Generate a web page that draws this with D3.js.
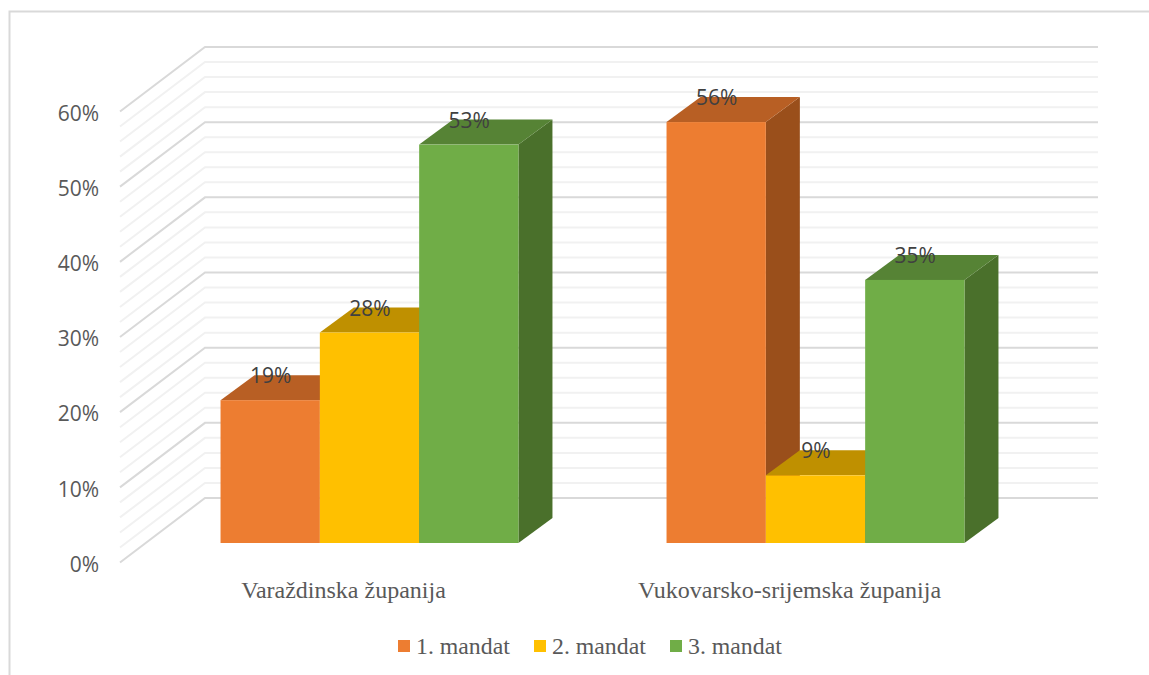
<!DOCTYPE html>
<html>
<head>
<meta charset="utf-8">
<script src="https://cdn.jsdelivr.net/npm/d3@7"></script>
<style>
  html, body { margin: 0; padding: 0; background: #fff; }
  svg { display: block; }
  .tick-label { font-family: "Open Sans", sans-serif; font-size: 21px; fill: #595959; }
  .cat-label, .legend-label { font-family: "Liberation Serif", serif; font-size: 24px; fill: #595959; }
  .legend-label { font-size: 23.8px; }
  .value-label { font-family: "Open Sans", sans-serif; font-size: 21px; fill: #404040; }
</style>
</head>
<body>
<div id="chart"></div>
<script>
const categories = ["Varaždinska županija", "Vukovarsko-srijemska županija"]
const seriesNames = ["1. mandat", "2. mandat", "3. mandat"]
const mandat1 = [19, 56]
const mandat2 = [28, 9]
const mandat3 = [53, 35]
const seriesValues = [mandat1, mandat2, mandat3]
const tickValues = [0, 10, 20, 30, 40, 50, 60]
const minorValues = [2, 4, 6, 8, 12, 14, 16, 18, 22, 24, 26, 28, 32, 34, 36, 38, 42, 44, 46, 48, 52, 54, 56, 58]

const frontColors = ["#ED7D31", "#FFC000", "#70AD47"]
const topColors = ["#B85F24", "#BF9000", "#568335"]
const sideColors = ["#9A4F1B", "#A07800", "#4A702B"]

const width = 1149
const height = 675

const svg = d3.select("#chart").append("svg")
    .attr("width", width)
    .attr("height", height)

// Chart frame, cut off by the right and bottom of the picture.
svg.append("path")
    .attr("d", "M9.5,675V11.5H1149")
    .attr("fill", "none")
    .attr("stroke", "#D9D9D9")
    .attr("stroke-width", 2)

// The back wall is the reference plane for the gridlines.
const yWall = d3.scaleLinear().domain([0, 60]).range([498, 47])
const wallLeft = 205
const wallRight = 1098
const depthX = 85
const depthY = 64.5

function drawGrid(values, color) {
  svg.append("g")
    .selectAll("path")
    .data(values)
    .enter().append("path")
    .attr("d", function(d) {
      let y = yWall(d)
      return "M" + (wallLeft - depthX) + "," + (y + depthY) + "L" + wallLeft + "," + y + "H" + wallRight
    })
    .attr("fill", "none")
    .attr("stroke", color)
    .attr("stroke-width", 2)
}

drawGrid(minorValues, "#F1F1F1")
drawGrid(tickValues, "#D9D9D9")

// Value axis sits on the front edge of the side wall.
const yAxisScale = d3.scaleLinear().domain([0, 60]).range([562, 111])
const yAxis = svg.append("g")
    .attr("transform", "translate(108,2.5)")
    .call(d3.axisLeft(yAxisScale)
      .tickValues(tickValues)
      .tickSize(0)
      .tickPadding(9)
      .tickFormat(function(d) { return d + "%" }))
yAxis.select(".domain").remove()
yAxis.selectAll("text").attr("class", "tick-label").style("font-size", null).style("font-family", null)
yAxis.attr("font-size", null).attr("font-family", null)

// Bars stand in a plane between the front edge and the back wall.
const yBar = d3.scaleLinear().domain([0, 60]).range([543, 92])
const xGroup = d3.scaleBand().domain(categories).range([146.5, 1038.5]).paddingInner(0.332).paddingOuter(0.166)
const xBar = d3.scaleBand().domain(seriesNames).range([0, xGroup.bandwidth()])
const barDepthX = 34
const barDepthY = 25

seriesNames.forEach(function(name, s) {
  const bars = svg.append("g").selectAll("g")
    .data(seriesValues[s])
    .enter().append("g")
    .attr("transform", function(d, i) { return "translate(" + (xGroup(categories[i]) + xBar(name)) + ",0)" })
  const w = xBar.bandwidth()

  bars.append("path")
    .attr("fill", sideColors[s])
    .attr("d", function(d) {
      return "M" + w + "," + yBar(d) + "l" + barDepthX + "," + (-barDepthY) +
        "V" + (yBar(0) - barDepthY) + "l" + (-barDepthX) + "," + barDepthY + "Z"
    })
  bars.append("path")
    .attr("fill", topColors[s])
    .attr("d", function(d) {
      return "M0," + yBar(d) + "l" + barDepthX + "," + (-barDepthY) + "h" + w + "l" + (-barDepthX) + "," + barDepthY + "Z"
    })
  bars.append("rect")
    .attr("fill", frontColors[s])
    .attr("width", w)
    .attr("y", function(d) { return yBar(d) })
    .attr("height", function(d) { return yBar(0) - yBar(d) })
})

// Labels go last so no later bar covers them.
seriesNames.forEach(function(name, s) {
  svg.append("g").selectAll("text")
    .data(seriesValues[s])
    .enter().append("text")
    .attr("class", "value-label")
    .attr("text-anchor", "middle")
    .attr("x", function(d, i) { return xGroup(categories[i]) + xBar(name) + xBar.bandwidth() / 2 + 0.5 })
    .attr("y", function(d) { return yBar(d) - barDepthY + 8 })
    .text(function(d) { return d + "%" })
})

svg.append("g").selectAll("text")
    .data(categories)
    .enter().append("text")
    .attr("class", "cat-label")
    .attr("text-anchor", "middle")
    .attr("x", function(d) { return xGroup(d) + xGroup.bandwidth() / 2 - 26 })
    .attr("y", 598)
    .text(function(d) { return d })

// Legend
const legendX = [398, 534, 670]
const legend = svg.append("g").selectAll("g")
    .data(seriesNames)
    .enter().append("g")
    .attr("transform", function(d, i) { return "translate(" + legendX[i] + ",640)" })
legend.append("rect")
    .attr("width", 12)
    .attr("height", 12)
    .attr("fill", function(d, i) { return frontColors[i] })
legend.append("text")
    .attr("class", "legend-label")
    .attr("x", 18)
    .attr("y", 14)
    .text(function(d) { return d })
</script>
</body>
</html>
